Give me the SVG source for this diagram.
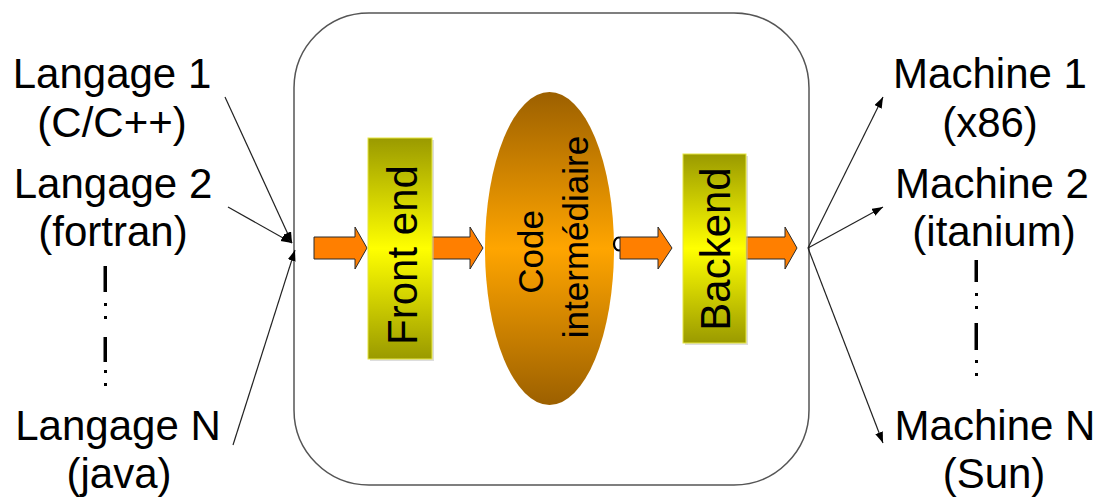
<svg xmlns="http://www.w3.org/2000/svg" width="1111" height="497" viewBox="0 0 1111 497">
<style>
.lbl{font-family:"Liberation Sans",Arial,sans-serif;font-size:42px;fill:#000;text-anchor:middle}
.in{font-family:"Liberation Sans",Arial,sans-serif;fill:#000;text-anchor:middle}
.oa{fill:#ff7f00;stroke:#2a2a2a;stroke-width:1}
.con{stroke:#222;stroke-width:1.2;fill:none;marker-end:url(#ah)}
.dot{fill:#000}
</style>
<defs>
<linearGradient id="gy" x1="0" y1="0" x2="0" y2="1">
<stop offset="0" stop-color="#9a9a00"/>
<stop offset="0.5" stop-color="#ffff00"/>
<stop offset="1" stop-color="#9a9a00"/>
</linearGradient>
<linearGradient id="go" x1="0" y1="0" x2="0" y2="1">
<stop offset="0" stop-color="#9c6000"/>
<stop offset="0.5" stop-color="#ffa500"/>
<stop offset="1" stop-color="#9c6000"/>
</linearGradient>
<marker id="ah" markerUnits="userSpaceOnUse" markerWidth="12" markerHeight="10" refX="11" refY="4" orient="auto">
<path d="M0,0 L11,4 L0,8 Z" fill="#000"/>
</marker>
</defs>
<rect id="container" x="294" y="13" width="515" height="472" rx="75" ry="75" fill="#fff" stroke="#555" stroke-width="1.5"/>
<g id="connectors">
<line class="con" x1="225" y1="97" x2="292" y2="243"/>
<line class="con" x1="228" y1="207" x2="292" y2="243"/>
<line class="con" x1="233" y1="445" x2="295" y2="250"/>
<line class="con" x1="808" y1="248" x2="883" y2="97"/>
<line class="con" x1="808" y1="248" x2="883" y2="207"/>
<line class="con" x1="808" y1="248" x2="883" y2="443"/>
<path class="oa" d="M314,237 H355 V227 L367,248 L355,269 V259 H314 Z"/>
<path class="oa" d="M431,237 H470 V227 L483,248 L470,269 V259 H431 Z"/>
<path class="oa" d="M746,237 H785 V227 L797,248 L785,269 V259 H746 Z"/>
</g>
<g id="frontend">
<rect x="370" y="140" width="64" height="221" fill="#bbb" opacity="0.5"/>
<rect x="368" y="138" width="64" height="221" fill="url(#gy)" stroke="#e6e640" stroke-width="1"/>
<text class="in" font-size="42" transform="translate(417,255) rotate(-90)">Front end</text>
</g>
<g id="code">
<ellipse cx="549.5" cy="248.5" rx="64.5" ry="156.5" fill="url(#go)"/>
<text class="in" font-size="35" transform="translate(543,252) rotate(-90)">Code</text>
<text class="in" font-size="35" transform="translate(588,237) rotate(-90)">intermédiaire</text>
<ellipse cx="619" cy="244" rx="5" ry="6.5" fill="none" stroke="#000" stroke-width="2.2"/>
<path class="oa" d="M620,237 H658 V227 L672,248 L658,269 V259 H620 Z"/>
</g>
<g id="backend">
<rect x="685" y="156" width="63" height="189" fill="#bbb" opacity="0.5"/>
<rect x="683" y="154" width="63" height="189" fill="url(#gy)" stroke="#e6e640" stroke-width="1"/>
<text class="in" font-size="42" transform="translate(730,249) rotate(-90)">Backend</text>
</g>
<g id="inputs">
<text class="lbl" x="112" y="88">Langage 1</text>
<text class="lbl" x="112" y="137">(C/C++)</text>
<text class="lbl" x="113" y="198">Langage 2</text>
<text class="lbl" x="113" y="246">(fortran)</text>
<rect class="dot" x="103.5" y="266" width="3.5" height="26"/>
<rect class="dot" x="104" y="303" width="3" height="3"/>
<rect class="dot" x="104" y="316" width="3" height="3"/>
<rect class="dot" x="103.5" y="337" width="3.5" height="25"/>
<rect class="dot" x="104" y="370" width="3" height="3"/>
<rect class="dot" x="104" y="383" width="3" height="3"/>
<text class="lbl" x="118" y="440">Langage N</text>
<text class="lbl" x="119" y="488">(java)</text>
</g>
<g id="outputs">
<text class="lbl" x="990" y="88">Machine 1</text>
<text class="lbl" x="990" y="137">(x86)</text>
<text class="lbl" x="992" y="198">Machine 2</text>
<text class="lbl" x="994" y="246">(itanium)</text>
<rect class="dot" x="974.5" y="260" width="3.5" height="22"/>
<rect class="dot" x="975" y="293" width="3" height="3"/>
<rect class="dot" x="975" y="306" width="3" height="3"/>
<rect class="dot" x="974.5" y="323" width="3.5" height="27"/>
<rect class="dot" x="975" y="360" width="3" height="3"/>
<rect class="dot" x="975" y="373" width="3" height="3"/>
<text class="lbl" x="995" y="440">Machine N</text>
<text class="lbl" x="994" y="488">(Sun)</text>
</g>
</svg>
